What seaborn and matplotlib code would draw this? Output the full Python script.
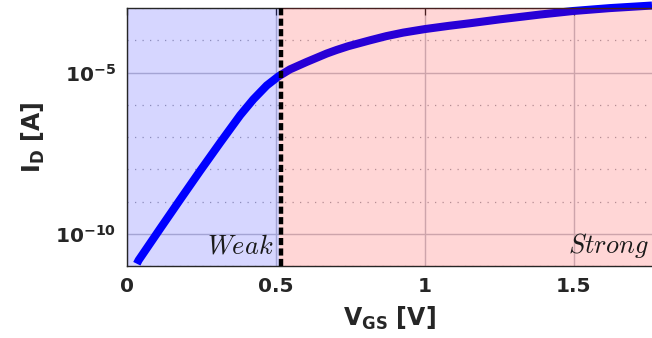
import numpy as np
import pandas as pd
import matplotlib
matplotlib.use("Agg")
import matplotlib.pyplot as plt
import seaborn as sns

# Transfer characteristic: gate-source voltage [V] vs log10 of drain current [A]
vgs = [0.033, 0.039, 0.112, 0.179, 0.246, 0.313, 0.380, 0.424, 0.469, 0.508,
       0.547, 0.603, 0.670, 0.703, 0.743, 0.815, 0.870, 0.927, 1.000, 1.080,
       1.151, 1.250, 1.386, 1.497, 1.620, 1.762]
log_id = [-10.93, -10.82, -9.83, -8.93, -8.04, -7.17, -6.32, -5.83, -5.40, -5.12,
          -4.90, -4.67, -4.41, -4.30, -4.18, -4.00, -3.87, -3.76, -3.65, -3.55,
          -3.47, -3.35, -3.20, -3.09, -3.00, -2.92]

v_threshold = 0.517
region_split = 0.51
x_ticks = [0, 0.5, 1, 1.5]
x_tick_labels = ["0", "0.5", "1", "1.5"]
y_major = [1e-10, 1e-5]
y_major_labels = [r"$\mathbf{10^{-10}}$", r"$\mathbf{10^{-5}}$"]
y_minor = [1e-11, 1e-9, 1e-8, 1e-7, 1e-6, 1e-4, 1e-3]
region_labels = [r"$Weak$", r"$Strong$"]

sns.set_theme(style="white")
plt.rcParams["font.family"] = ["DejaVu Sans"]

df = pd.DataFrame({"vgs": vgs, "id": 10.0 ** np.array(log_id)})

fig = plt.figure(figsize=(6.52, 3.38), dpi=100)
ax = fig.add_axes([0.1948, 0.213, 0.8052, 0.763])

x_max = 1.762
ax.set_yscale("log")
ax.set_xlim(0, x_max)
ax.set_ylim(10 ** -10.93, 1e-3)

# operating regions
ax.axvspan(0, region_split, color=(0, 0, 1), alpha=0.16, lw=0, zorder=1)
sns.lineplot(data=df, x="vgs", y="id", ax=ax, color=(0, 0, 1), lw=5.8,
             zorder=2, clip_on=False, solid_capstyle="butt",
             solid_joinstyle="round")
ax.axvspan(region_split, x_max, color=(1, 0, 0), alpha=0.16, lw=0, zorder=3)
ax.axvline(v_threshold, color="black", lw=3.2, dashes=(1.6, 0.75), zorder=4)

ax.text(0.49, 10 ** -10.8, region_labels[0], ha="right",
        va="bottom", fontsize=19, math_fontfamily="cm", color="#1a1a1a", zorder=5)
ax.text(x_max - 0.012, 10 ** -10.8, region_labels[1], ha="right",
        va="bottom", fontsize=19, math_fontfamily="cm", color="#1a1a1a", zorder=5)

# ticks and grid
ax.set_xticks(x_ticks)
ax.set_xticklabels(x_tick_labels)
ax.set_yticks(y_major)
ax.set_yticklabels(y_major_labels)
ax.set_yticks(y_minor, minor=True)
ax.yaxis.set_minor_formatter(matplotlib.ticker.NullFormatter())
ax.xaxis.set_minor_locator(matplotlib.ticker.NullLocator())

ax.set_axisbelow(True)
ax.grid(which="major", axis="both", color="#c4c4cc", lw=1.0, ls="-", zorder=0)
ax.grid(which="minor", axis="y", color="#a8a8b0", lw=0.9, ls=(0, (1, 5)), zorder=0)

ax.tick_params(axis="both", which="both", direction="in", colors="#262626",
               top=True, right=False, labelsize=14.5, length=5, width=0.9, pad=8)
ax.tick_params(axis="y", which="minor", length=4)
for lab in ax.get_xticklabels() + ax.get_yticklabels():
    lab.set_fontweight("bold")

for side in ["left", "bottom", "top"]:
    ax.spines[side].set_color("#262626")
    ax.spines[side].set_linewidth(1.0)
ax.spines["right"].set_visible(False)

ax.set_xlabel(r"$\mathbf{V_{GS}}$ [V]", fontsize=17, fontweight="bold",
              color="#262626", labelpad=6)
ax.set_ylabel(r"$\mathbf{I_{D}}$ [A]", fontsize=17, fontweight="bold",
              color="#262626", labelpad=6)

fig.savefig("out.png", dpi=100)
